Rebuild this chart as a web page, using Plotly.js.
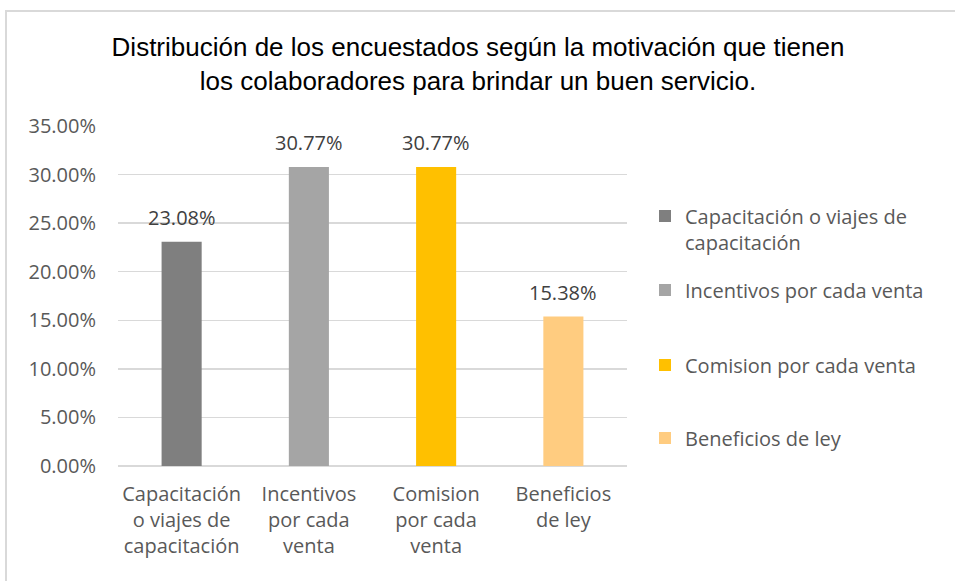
<!DOCTYPE html>
<html>
<head>
<meta charset="utf-8">
<script src="https://cdn.plot.ly/plotly-3.0.1.min.js"></script>
<style>
  html, body { margin: 0; padding: 0; background: #ffffff; overflow: hidden; }
  #frame { position: absolute; left: 5px; top: 10px; width: 1000px; height: 620px; border: 2px solid #d9d9d9; box-sizing: border-box; }
  #chart { position: absolute; left: 0; top: 0; width: 955px; height: 581px; }
</style>
</head>
<body>
<div id="frame"></div>
<div id="chart"></div>
<script>
// ---- data ----
var categories = ["Capacitación o viajes de capacitación", "Incentivos por cada venta", "Comision por cada venta", "Beneficios de ley"];
var tickLabels = ["Capacitación<br>o viajes de<br>capacitación", "Incentivos<br>por cada<br>venta", "Comision<br>por cada<br>venta", "Beneficios<br>de ley"];
var legendNames = ["Capacitación o viajes de<br>capacitación", "Incentivos por cada venta", "Comision por cada venta", "Beneficios de ley"];
var values = [0.2308, 0.3077, 0.3077, 0.1538];
var colors = ["#7f7f7f", "#a5a5a5", "#ffc000", "#ffcc80"];
var titleText = "Distribución de los encuestados según la motivación que tienen<br>los colaboradores para brindar un buen servicio.";

// ---- layout helpers ----
var W = 955, H = 581;
var plotL = 118, plotR = 627, plotT = 126, plotB = 466;
var legendPixY = [229, 290, 365, 438];
var legendKeys = ["legend", "legend2", "legend3", "legend4"];
var tickFont = { family: "Open Sans, sans-serif", size: 20, color: "#595959" };

var traces = categories.map(function (c, i) {
  return {
    type: "bar",
    x: [c],
    y: [values[i]],
    name: legendNames[i],
    legend: legendKeys[i],
    marker: { color: colors[i], line: { width: 0 } },
    width: 0.315,
    hoverinfo: "x+y"
  };
});

var annotations = categories.map(function (c, i) {
  return {
    x: c, y: values[i], xref: "x", yref: "y",
    text: (values[i] * 100).toFixed(2) + "%",
    showarrow: false, yanchor: "bottom", xanchor: "center", yshift: 9,
    font: { family: "Open Sans, sans-serif", size: 20, color: "#404040" }
  };
});

var layout = {
  width: W, height: H,
  paper_bgcolor: "rgba(0,0,0,0)",
  plot_bgcolor: "rgba(0,0,0,0)",
  margin: { l: plotL, r: W - plotR, t: plotT, b: H - plotB, pad: 0 },
  barmode: "overlay",
  title: {
    text: titleText,
    font: { family: "Liberation Sans, Arial, sans-serif", size: 26, color: "#000000" },
    xref: "container", x: 478 / W, xanchor: "center",
    yref: "container", y: 1 - 56 / H, yanchor: "top"
  },
  xaxis: {
    type: "category",
    categoryorder: "array", categoryarray: categories,
    tickvals: categories, ticktext: tickLabels,
    tickfont: tickFont,
    showgrid: false, zeroline: false, showline: false,
    ticks: "", ticklabelstandoff: 14,
    fixedrange: true
  },
  yaxis: {
    range: [0, 0.35], dtick: 0.05, tick0: 0,
    tickformat: ".2%",
    tickfont: tickFont,
    gridcolor: "#d9d9d9", gridwidth: 1.5,
    zeroline: true, zerolinecolor: "#d9d9d9", zerolinewidth: 1.5,
    showline: false, ticks: "", ticklabelstandoff: 21,
    fixedrange: true
  },
  annotations: annotations,
  showlegend: true
};

legendKeys.forEach(function (k, i) {
  layout[k] = {
    x: (645 - plotL) / (plotR - plotL),
    xanchor: "left",
    y: (plotB - legendPixY[i]) / (plotB - plotT),
    yanchor: "middle",
    valign: i === 0 ? "top" : "middle",
    bgcolor: "rgba(0,0,0,0)",
    borderwidth: 0,
    font: { family: "Open Sans, sans-serif", size: 20, color: "#595959" }
  };
});

Plotly.newPlot("chart", traces, layout, { displayModeBar: false, staticPlot: true });
</script>
</body>
</html>
